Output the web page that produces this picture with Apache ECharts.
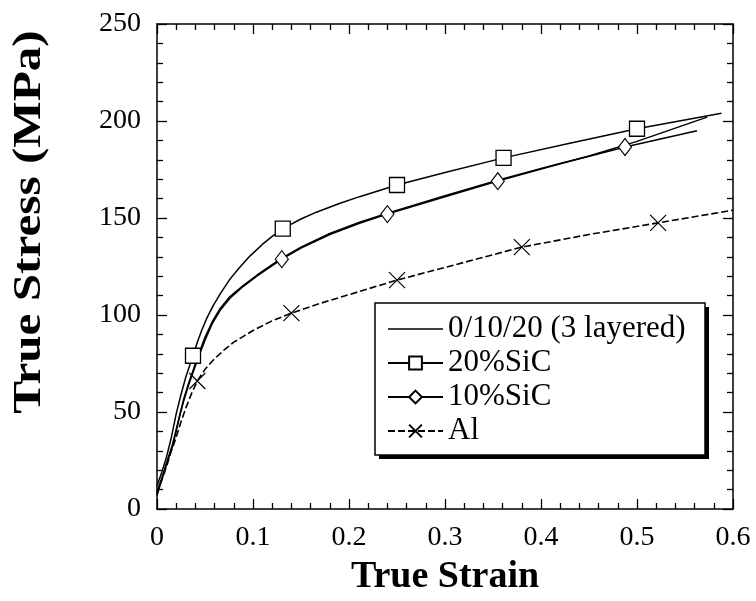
<!DOCTYPE html>
<html>
<head>
<meta charset="utf-8">
<script src="https://cdn.jsdelivr.net/npm/echarts@6/dist/echarts.min.js"></script>
<style>html,body{margin:0;padding:0;background:#fff}#c{width:756px;height:601px}</style>
</head>
<body>
<div id="c"></div>
<script>
// ---- data (true strain, true stress MPa) ----
const seriesNames = ['0/10/20 (3 layered)', '20%SiC', '10%SiC', 'Al'];
const layered3Curve = [[0,9],[0.005,16],[0.01,24],[0.016,33],[0.02,41],[0.024,49],[0.028,57],[0.033,65],[0.038,72],[0.042,78],[0.05,88.5],[0.058,97],[0.066,103.5],[0.076,109.5],[0.09,115.3],[0.104,120.5],[0.115,124.3],[0.13,129.3],[0.15,135],[0.18,142],[0.211,147.8],[0.24,152.5],[0.3,161.5],[0.355,169.5],[0.4,175.5],[0.45,182],[0.5,189.5],[0.573,202]];
const sic20Curve = [[0,12],[0.005,19],[0.01,27],[0.015,37],[0.02,49],[0.025,59],[0.03,68],[0.042,86],[0.0465,92],[0.052,98.5],[0.0587,105],[0.066,111],[0.076,118.5],[0.086,124.5],[0.097,130.5],[0.11,136.5],[0.12,140.5],[0.15,149.5],[0.166,153],[0.19,157.5],[0.211,161],[0.3,173.5],[0.43,188.5],[0.588,204]];
const sic20Marks = [[0.0375,79],[0.131,144.5],[0.25,167],[0.361,181],[0.5,196]];
const sic10Curve = [[0,7],[0.005,15],[0.01,23],[0.016,32],[0.02,40],[0.024,48.7],[0.028,56],[0.033,64],[0.038,71],[0.043,78],[0.05,87],[0.058,96],[0.066,102.5],[0.076,108.6],[0.09,114.8],[0.104,120],[0.115,123.8],[0.15,134.5],[0.18,141.5],[0.211,147.3],[0.3,161],[0.42,178],[0.5625,195]];
const sic10Marks = [[0.13,128.8],[0.24,152],[0.355,169],[0.4875,186.6]];
const alCurve = [[0,8],[0.005,15],[0.01,22],[0.015,30],[0.02,37],[0.025,45],[0.03,52],[0.036,59.5],[0.05,72],[0.06,77.5],[0.07,82],[0.08,86],[0.09,89],[0.1,92],[0.12,97],[0.17,106],[0.2,110.5],[0.3,124.5],[0.45,141.5],[0.6,154]];
const alMarks = [[0.042,66],[0.14,101],[0.25,118],[0.38,135],[0.522,147.5]];
const xTickLabels = ['0','0.1','0.2','0.3','0.4','0.5','0.6'];
const yTickLabels = ['0','50','100','150','200','250'];

function build(curve, marks) {
  return curve.map(p => ({ value: p, symbol: 'none' }))
    .concat(marks.map(p => ({ value: p })))
    .sort((a, b) => a.value[0] - b.value[0]);
}

const FONT = '"Liberation Serif", "Times New Roman", serif';
const axisCommon = {
  type: 'value',
  splitLine: { show: false },
  axisLine: { show: true, onZero: false, lineStyle: { color: '#000', width: 1.5 } },
  axisTick: { show: true, inside: true, length: 10, lineStyle: { color: '#000', width: 1.3 } },
  minorTick: { show: true, splitNumber: 5, length: 6, lineStyle: { color: '#000', width: 1.3 } },
  minorSplitLine: { show: false }
};
const chart = echarts.init(document.getElementById('c'), null, { renderer: 'canvas' });
const X = 'path://M0,0L10,10M10,0L0,10';
chart.setOption({
  animation: false,
  backgroundColor: '#fff',
  grid: { left: 157, right: 23, top: 24, bottom: 89 },
  xAxis: [
    Object.assign({}, axisCommon, {
      min: 0, max: 0.6, interval: 0.1, position: 'bottom',
      name: 'True Strain', nameLocation: 'middle', nameGap: 49,
      nameTextStyle: { fontFamily: FONT, fontWeight: 'bold', fontSize: 38, color: '#000' },
      axisLabel: { fontFamily: FONT, fontSize: 28, color: '#000', margin: 15,
        formatter: v => xTickLabels[Math.round(v * 10)] }
    }),
    Object.assign({}, axisCommon, {
      min: 0, max: 0.6, interval: 0.1, position: 'top', axisLabel: { show: false }
    })
  ],
  yAxis: [
    Object.assign({}, axisCommon, {
      min: 0, max: 250, interval: 50, position: 'left',
      axisLabel: { fontFamily: FONT, fontSize: 28, color: '#000', margin: 16,
        formatter: v => yTickLabels[Math.round(v / 50)] }
    }),
    Object.assign({}, axisCommon, {
      min: 0, max: 250, interval: 50, position: 'right', axisLabel: { show: false }
    })
  ],
  graphic: [
    {
      type: 'text', x: 29, y: 222, rotation: Math.PI / 2, scaleX: 1.2, z: 10,
      style: { text: 'True Stress (MPa)', font: 'bold 41px ' + FONT, fill: '#000',
        textAlign: 'center', textVerticalAlign: 'middle', align: 'center', verticalAlign: 'middle' }
    },
    { type: 'rect', x: 379, y: 307, z: 3, shape: { width: 330, height: 152 }, style: { fill: '#000' } },
    { type: 'rect', x: 375, y: 303, z: 3, shape: { width: 330, height: 152 },
      style: { fill: '#fff', stroke: '#000', lineWidth: 1.5 } }
  ],
  legend: {
    orient: 'vertical', left: 375, top: 303, z: 5,
    padding: [9, 12, 8, 12],
    itemWidth: 55, itemHeight: 16, itemGap: 0,
    textStyle: { fontFamily: FONT, fontSize: 31, color: '#000', lineHeight: 34 },
    data: [
      { name: seriesNames[0], icon: 'path://M0,0L55,0L55,1.5L0,1.5Z' },
      seriesNames[1], seriesNames[2], seriesNames[3]
    ]
  },
  series: [
    { name: seriesNames[0], type: 'line', symbol: 'none',
      lineStyle: { color: '#000', width: 1.5 }, itemStyle: { color: '#000' },
      data: layered3Curve },
    { name: seriesNames[1], type: 'line', symbol: 'rect', symbolSize: 15, showAllSymbol: true, z: 3,
      lineStyle: { color: '#000', width: 1.5 },
      itemStyle: { color: '#fff', borderColor: '#000', borderWidth: 1.3 },
      data: build(sic20Curve, sic20Marks) },
    { name: seriesNames[2], type: 'line', symbol: 'diamond', symbolSize: [13, 17], showAllSymbol: true, z: 3,
      lineStyle: { color: '#000', width: 1.5 },
      itemStyle: { color: '#fff', borderColor: '#000', borderWidth: 1.2 },
      data: build(sic10Curve, sic10Marks) },
    { name: seriesNames[3], type: 'line', symbol: X, symbolSize: 16, showAllSymbol: true, z: 3,
      lineStyle: { color: '#000', width: 1.6, type: [7, 3] },
      itemStyle: { color: 'rgba(0,0,0,0)', borderColor: '#000', borderWidth: 1.2 },
      data: build(alCurve, alMarks) }
  ]
});
</script>
</body>
</html>
